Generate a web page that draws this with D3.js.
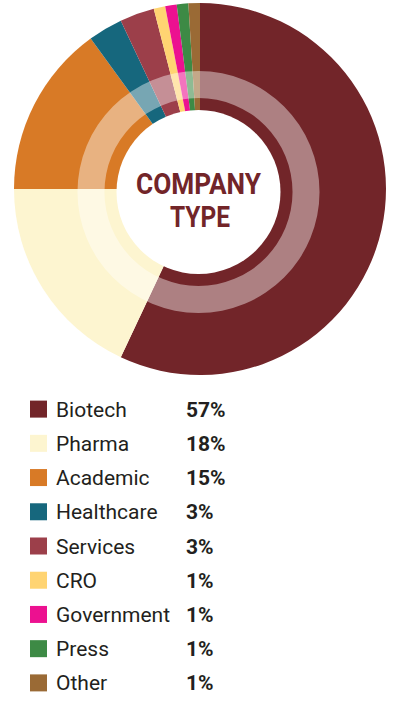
<!DOCTYPE html>
<html>
<head>
<meta charset="utf-8">
<script src="https://cdn.jsdelivr.net/npm/d3@7"></script>
<style>
  html, body { margin: 0; padding: 0; background: #fff; }
  svg { display: block; font-family: Roboto, "Noto Sans", sans-serif; }
</style>
</head>
<body>
<svg id="chart" width="400" height="708"></svg>
<script>
// company type donut + legend
var categories = ["Biotech", "Pharma", "Academic", "Healthcare", "Services", "CRO", "Government", "Press", "Other"];
var shares     = [57, 18, 15, 3, 3, 1, 1, 1, 1];
var pctLabels  = ["57%", "18%", "15%", "3%", "3%", "1%", "1%", "1%", "1%"];
var colors     = ["#722529", "#fdf5d0", "#d87a26", "#16677d", "#9c3f4a", "#ffd472", "#ec1190", "#3d8a45", "#9a6a35"];

var svg = d3.select("#chart");
var data = categories.map(function (c, i) { return { name: c, value: shares[i], pct: pctLabels[i], color: colors[i] }; });

var color = d3.scaleOrdinal().domain(categories).range(colors);
var pie = d3.pie().value(function (d) { return d.value; }).sort(null);
var arc = d3.arc().innerRadius(0).outerRadius(186);

var donut = svg.append("g").attr("transform", "translate(200,189)");
donut.selectAll("path.slice").data(pie(data)).enter()
  .append("path").attr("class", "slice")
  .attr("d", arc)
  .attr("fill", function (d) { return color(d.data.name); });

// translucent ring + white hole (sits a touch off the outer centre, as in the source)
var mid = svg.append("g").attr("transform", "translate(198.5,192)");
mid.append("path")
  .attr("d", d3.arc().innerRadius(94).outerRadius(121).startAngle(0).endAngle(2 * Math.PI)())
  .attr("fill", "#fff").attr("opacity", 0.42);
mid.append("circle").attr("r", 82).attr("fill", "#fff");

var title = mid.append("text").attr("text-anchor", "middle").attr("fill", "#722529")
  .attr("font-weight", 700).attr("font-size", 30);
title.append("tspan").attr("x", 0).attr("y", 1.5)
  .attr("textLength", 125).attr("lengthAdjust", "spacingAndGlyphs").text("COMPANY");
title.append("tspan").attr("x", 1.5).attr("y", 35)
  .attr("textLength", 60).attr("lengthAdjust", "spacingAndGlyphs").text("TYPE");

// legend
var y = d3.scaleBand().domain(categories).range([392, 700]).paddingInner(0);
var leg = svg.append("g").selectAll("g").data(data).enter().append("g")
  .attr("transform", function (d) { return "translate(0," + (y(d.name) + y.bandwidth() / 2) + ")"; });
leg.append("rect").attr("x", 30).attr("y", -8.5).attr("width", 17).attr("height", 17)
  .attr("fill", function (d) { return color(d.name); });
leg.append("text").attr("x", 56).attr("y", 7.5).attr("font-size", 21).attr("fill", "#231f20")
  .text(function (d) { return d.name; });
leg.append("text").attr("x", 186).attr("y", 7.5).attr("font-size", 21).attr("font-weight", 700)
  .attr("fill", "#231f20").text(function (d) { return d.pct; });
</script>
</body>
</html>
